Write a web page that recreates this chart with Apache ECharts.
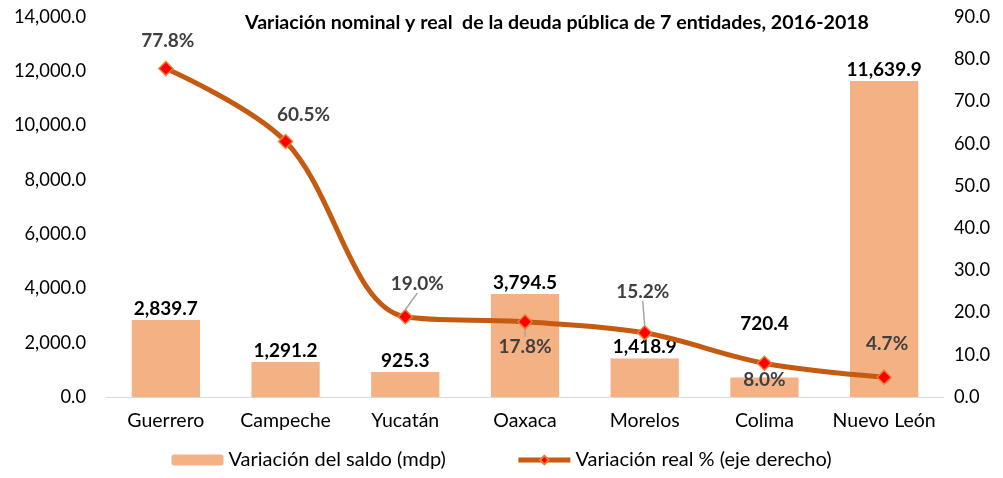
<!DOCTYPE html>
<html>
<head>
<meta charset="utf-8">
<script src="https://cdn.jsdelivr.net/npm/echarts@6/dist/echarts.min.js"></script>
<style>
  html, body { margin: 0; padding: 0; background: #fff; }
  #chart { width: 1003px; height: 478px; }
</style>
</head>
<body>
<div id="chart"></div>
<script>
const categories = ['Guerrero', 'Campeche', 'Yucatán', 'Oaxaca', 'Morelos', 'Colima', 'Nuevo León'];
const saldo = [2839.7, 1291.2, 925.3, 3794.5, 1418.9, 720.4, 11639.9];
const real = [77.8, 60.5, 19.0, 17.8, 15.2, 8.0, 4.7];

// label nudges (pixels) so they sit where the original puts them
const realLabelDx = [2, 18, 12, 0, -2, 0, 3];
const realLabelDy = [-2, -1, -8, 50, -16, 42, -8];
const realLeader = [false, false, true, true, true, true, false];
const saldoLabelDy = [0, 0, 0, 0, 0, -42, 0];

const font = 'Lato, "Noto Sans", sans-serif';

function fmt(v, d) {
    return v.toLocaleString('en-US', { minimumFractionDigits: d, maximumFractionDigits: d });
}

const chart = echarts.init(document.getElementById('chart'));
chart.setOption({
    animation: false,
    textStyle: { fontFamily: font },
    title: {
        text: 'Variación nominal y real  de la deuda pública de 7 entidades, 2016-2018',
        left: 552,
        textAlign: 'center',
        top: 8,
        textStyle: { fontFamily: font, fontSize: 19.6, fontWeight: 'bold', color: '#000' }
    },
    legend: {
        bottom: 3,
        left: 'center',
        itemGap: 70,
        itemWidth: 52,
        itemHeight: 11,
        textStyle: { fontFamily: font, fontSize: 20, color: '#000' },
        data: [
            { name: 'Variación del saldo (mdp)' },
            { name: 'Variación real % (eje derecho)', lineStyle: { width: 5, color: '#C55A11' } }
        ]
    },
    grid: { left: 106, right: 59, top: 17, bottom: 81 },
    xAxis: {
        type: 'category',
        data: categories,
        axisLine: { lineStyle: { color: '#D9D9D9', width: 1 } },
        axisTick: { show: false },
        axisLabel: { interval: 0, fontFamily: font, fontSize: 19.5, color: '#000', margin: 14 }
    },
    yAxis: [{
        type: 'value',
        min: 0, max: 14000, interval: 2000,
        splitLine: { show: false },
        axisLine: { show: false },
        axisTick: { show: false },
        axisLabel: { fontFamily: font, fontSize: 18.3, color: '#000', margin: 20, formatter: v => fmt(v, 1) }
    }, {
        type: 'value',
        min: 0, max: 90, interval: 10,
        splitLine: { show: false },
        axisLine: { show: false },
        axisTick: { show: false },
        axisLabel: { fontFamily: font, fontSize: 18.3, color: '#000', margin: 10, formatter: v => fmt(v, 1) }
    }],
    series: [{
        name: 'Variación del saldo (mdp)',
        type: 'bar',
        data: saldo,
        barWidth: '57%',
        itemStyle: { color: '#F4B183' },
        label: {
            show: true,
            position: 'top',
            distance: 2,
            fontFamily: font,
            fontSize: 19,
            fontWeight: 'bold',
            color: '#000',
            formatter: p => fmt(p.value, 1)
        },
        labelLayout: p => ({ dy: saldoLabelDy[p.dataIndex] })
    }, {
        name: 'Variación real % (eje derecho)',
        type: 'line',
        yAxisIndex: 1,
        data: real.map((v, i) => ({ value: v, labelLine: { show: realLeader[i] } })),
        smooth: 0.35,
        symbol: 'diamond',
        symbolSize: 14,
        lineStyle: { color: '#C55A11', width: 5 },
        itemStyle: { color: '#FF0000', borderColor: '#ED7D31', borderWidth: 1.5 },
        label: {
            show: true,
            position: 'top',
            distance: 8,
            fontFamily: font,
            fontSize: 19,
            fontWeight: 'bold',
            color: '#404040',
            formatter: p => fmt(p.value, 1) + '%'
        },
        labelLine: { show: true, lineStyle: { color: '#A6A6A6', width: 1.5 } },
        labelLayout: p => ({ dx: realLabelDx[p.dataIndex], dy: realLabelDy[p.dataIndex] }),
        z: 3
    }]
});
</script>
</body>
</html>
